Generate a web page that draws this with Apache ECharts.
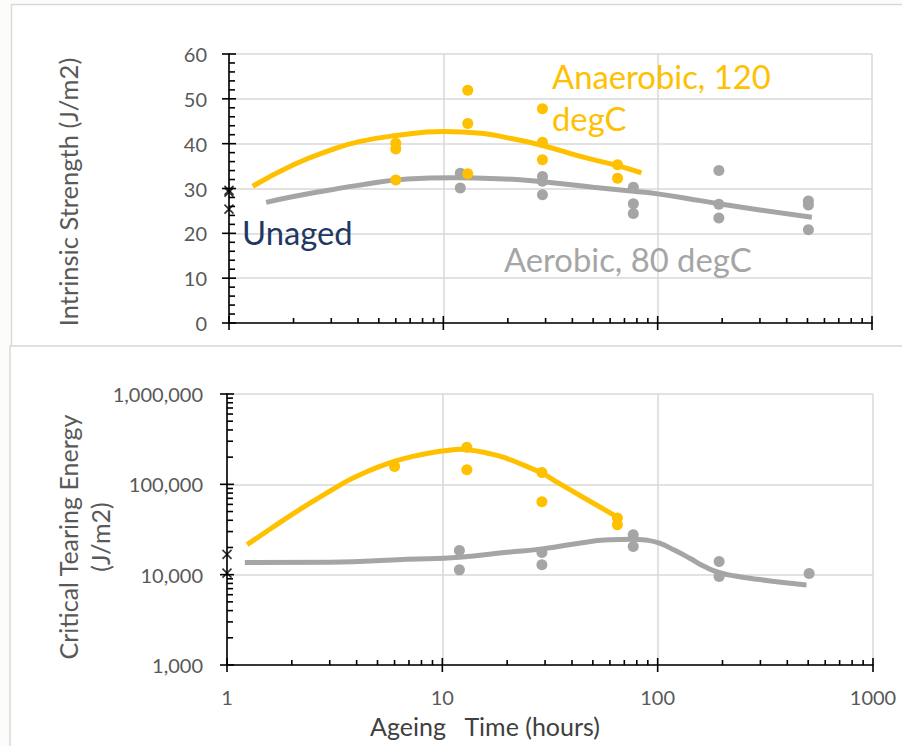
<!DOCTYPE html>
<html>
<head>
<meta charset="utf-8">
<script src="https://cdn.jsdelivr.net/npm/echarts@6/dist/echarts.min.js"></script>
<style>
  html, body { margin: 0; padding: 0; background: #fcfcfa; }
  #chart { width: 902px; height: 746px; }
</style>
</head>
<body>
<div id="chart"></div>
<script>
// ---- Intrinsic strength (J/m2) against ageing time (hours) ----
const strengthAnaerobicTime = [6, 6, 6, 13, 13, 13, 29, 29, 29, 65, 65];
const strengthAnaerobicValue = [40.1, 38.8, 31.9, 51.9, 44.5, 33.3, 47.8, 40.3, 36.4, 35.3, 32.3];
const strengthAerobicTime = [12, 12, 29, 29, 29, 77, 77, 77, 193, 193, 193, 505, 505, 505];
const strengthAerobicValue = [33.4, 30.1, 32.7, 31.6, 28.6, 30.3, 26.6, 24.4, 34.0, 26.5, 23.4, 27.2, 26.3, 20.8];
const strengthUnagedTime = [1, 1, 1];
const strengthUnagedValue = [29.6, 29.2, 25.4];
// trend curves
const strengthAnaerobicFitTime = [1.29, 2, 3, 4, 6, 10, 15, 20, 29, 45, 65, 84];
const strengthAnaerobicFitValue = [30.5, 35.3, 38.6, 40.4, 41.8, 42.7, 42.3, 41.3, 39.6, 37.0, 35.1, 33.5];
const strengthAerobicFitTime = [1.49, 2, 2.9, 4, 6.8, 11, 18, 29, 50, 77, 100, 158, 193, 300, 524];
const strengthAerobicFitValue = [26.9, 28.2, 29.6, 30.7, 32.1, 32.4, 32.2, 31.5, 30.3, 29.4, 28.8, 27.3, 26.6, 25.2, 23.6];

// ---- Critical tearing energy (J/m2) against ageing time (hours) ----
const energyAnaerobicTime = [6, 13, 13, 29, 29, 65, 65];
const energyAnaerobicValue = [158000, 258000, 145000, 135000, 64000, 42300, 35600];
const energyAerobicTime = [12, 12, 29, 29, 77, 77, 193, 193, 505];
const energyAerobicValue = [18500, 11300, 17600, 12900, 27600, 20500, 14000, 9530, 10300];
const energyUnagedTime = [1, 1];
const energyUnagedValue = [16800, 10400];
// trend curves
const energyAnaerobicFitTime = [1.24, 1.6, 2, 2.5, 3.1, 3.7, 4.4, 5.2, 6, 7.3, 8.9, 10.5, 12, 13, 17, 20, 24, 29, 35, 45, 65];
const energyAnaerobicFitValue = [21500, 32400, 46200, 64600, 88000, 112000, 136000, 160000, 180000, 204000, 224000, 237000, 244000, 242000, 216000, 193000, 162000, 133000, 102000, 72000, 43400];
const energyAerobicFitTime = [1.21, 3, 6.9, 12, 20, 29, 48, 60, 75, 90, 102, 120, 141, 165, 194, 230, 268, 383, 491];
const energyAerobicFitValue = [13600, 13700, 14800, 15600, 17700, 19300, 23200, 24300, 24700, 24000, 22300, 18600, 15200, 12300, 10500, 9660, 9140, 8170, 7700];

// ---- tick positions ----
const timeMajorTicks = [1, 10, 100, 1000];
const timeMinorTicks = [2, 3, 4, 5, 6, 7, 8, 9, 20, 30, 40, 50, 60, 70, 80, 90, 200, 300, 400, 500, 600, 700, 800, 900];
const strengthMajorTicks = [0, 10, 20, 30, 40, 50, 60];
const strengthMinorTicks = [2, 4, 6, 8, 12, 14, 16, 18, 22, 24, 26, 28, 32, 34, 36, 38, 42, 44, 46, 48, 52, 54, 56, 58];
const energyMajorTicks = [1000, 10000, 100000, 1000000];
const energyMinorTicks = [2000, 3000, 4000, 5000, 6000, 7000, 8000, 9000,
  20000, 30000, 40000, 50000, 60000, 70000, 80000, 90000,
  200000, 300000, 400000, 500000, 600000, 700000, 800000, 900000];

const ORANGE = '#FFC000';
const GREY = '#A5A5A5';
const TEXT = '#595959';
const GRID_LINE = '#d9d9d9';
const FONT = 'Lato, Carlito, "Open Sans", sans-serif';

const zip = (xs, ys) => xs.map((x, i) => [x, ys[i]]);

// tick marks drawn through the axis scales: [x, y, lengthInside, lengthOutside]
function tickSeries(grid, orient, items) {
  return {
    type: 'custom',
    xAxisIndex: grid, yAxisIndex: grid,
    coordinateSystem: 'cartesian2d',
    clip: false, silent: true, z: 10,
    encode: { x: 0, y: 1 },
    data: items,
    renderItem: function (params, api) {
      const p = api.coord([api.value(0), api.value(1)]);
      const inL = api.value(2), outL = api.value(3);
      const shape = orient === 'x'
        ? { x1: p[0], y1: p[1] - inL, x2: p[0], y2: p[1] + outL }
        : { x1: p[0] - outL, y1: p[1], x2: p[0] + inL, y2: p[1] };
      return { type: 'line', shape: shape, style: { stroke: '#000', lineWidth: 1.6 } };
    }
  };
}

const crossMark = 'path://M0,0L10,10M10,0L0,10';

function scatter(grid, data, color) {
  return {
    type: 'scatter', xAxisIndex: grid, yAxisIndex: grid, data: data,
    symbol: 'circle', symbolSize: 11, itemStyle: { color: color, opacity: 1 },
    z: 5, silent: true
  };
}
function unaged(grid, data) {
  return {
    type: 'scatter', xAxisIndex: grid, yAxisIndex: grid, data: data,
    symbol: crossMark, symbolSize: 9,
    itemStyle: { color: 'none', borderColor: '#000', borderWidth: 1.6 },
    clip: false, z: 6, silent: true
  };
}
function fit(grid, data, color) {
  return {
    type: 'line', xAxisIndex: grid, yAxisIndex: grid, data: data,
    smooth: true, showSymbol: false, symbol: 'none',
    lineStyle: { color: color, width: 5 }, z: 3, silent: true
  };
}

const axisLine = { show: true, onZero: false, lineStyle: { color: '#000', width: 1.6 } };
const splitLine = { show: true, lineStyle: { color: GRID_LINE, width: 1.5 } };

const option = {
  animation: false,
  backgroundColor: 'transparent',
  grid: [
    { left: 229, top: 54, width: 643, height: 269 },
    { left: 227, top: 394, width: 646, height: 271 }
  ],
  xAxis: [
    { type: 'log', logBase: 10, min: 1, max: 1000, gridIndex: 0,
      axisLine: axisLine, axisTick: { show: false }, axisLabel: { show: false },
      splitLine: splitLine, minorTick: { show: false } },
    { type: 'log', logBase: 10, min: 1, max: 1000, gridIndex: 1,
      axisLine: axisLine, axisTick: { show: false },
      axisLabel: { color: TEXT, fontSize: 20, fontFamily: FONT, margin: 22,
        formatter: v => String(v) },
      splitLine: splitLine }
  ],
  yAxis: [
    { type: 'value', min: 0, max: 60, interval: 10, gridIndex: 0,
      axisLine: axisLine, axisTick: { show: false },
      axisLabel: { color: TEXT, fontSize: 20, fontFamily: FONT, margin: 22 },
      splitLine: splitLine },
    { type: 'log', logBase: 10, min: 1000, max: 1000000, gridIndex: 1,
      axisLine: axisLine, axisTick: { show: false },
      axisLabel: { color: TEXT, fontSize: 20, fontFamily: FONT, margin: 24,
        formatter: v => Number(v).toLocaleString('en-US') },
      splitLine: splitLine }
  ],
  series: [
    fit(0, zip(strengthAerobicFitTime, strengthAerobicFitValue), GREY),
    fit(0, zip(strengthAnaerobicFitTime, strengthAnaerobicFitValue), ORANGE),
    scatter(0, zip(strengthAerobicTime, strengthAerobicValue), GREY),
    scatter(0, zip(strengthAnaerobicTime, strengthAnaerobicValue), ORANGE),
    unaged(0, zip(strengthUnagedTime, strengthUnagedValue)),

    fit(1, zip(energyAerobicFitTime, energyAerobicFitValue), GREY),
    fit(1, zip(energyAnaerobicFitTime, energyAnaerobicFitValue), ORANGE),
    scatter(1, zip(energyAerobicTime, energyAerobicValue), GREY),
    scatter(1, zip(energyAnaerobicTime, energyAnaerobicValue), ORANGE),
    unaged(1, zip(energyUnagedTime, energyUnagedValue)),

    tickSeries(0, 'x', timeMajorTicks.map(t => [t, 0, 7, 7]).concat(timeMinorTicks.map(t => [t, 0, 5, 0]))),
    tickSeries(0, 'y', strengthMajorTicks.map(v => [1, v, 7, 7]).concat(strengthMinorTicks.map(v => [1, v, 6, 0]))),
    tickSeries(1, 'x', timeMajorTicks.map(t => [t, 1000, 7, 7]).concat(timeMinorTicks.map(t => [t, 1000, 5, 0]))),
    tickSeries(1, 'y', energyMajorTicks.map(v => [1, v, 7, 7]).concat(energyMinorTicks.map(v => [1, v, 6, 0])))
  ],
  graphic: [
    { type: 'rect', z: -10, silent: true, shape: { x: 11.5, y: 4.5, width: 900, height: 342 },
      style: { fill: '#fff', stroke: GRID_LINE, lineWidth: 1.5 } },
    { type: 'rect', z: -10, silent: true, shape: { x: 10, y: 346, width: 900, height: 410 },
      style: { fill: '#fff', stroke: GRID_LINE, lineWidth: 1.5 } },

    { type: 'text', z: 100, silent: true, x: 68, y: 192, rotation: Math.PI / 2,
      style: { text: 'Intrinsic Strength (J/m2)', font: '25.5px ' + FONT, fill: TEXT,
        align: 'center', verticalAlign: 'middle', textAlign: 'center', textVerticalAlign: 'middle' } },
    { type: 'text', z: 100, silent: true, x: 68, y: 537, rotation: Math.PI / 2,
      style: { text: 'Critical Tearing Energy', font: '25px ' + FONT, fill: TEXT,
        align: 'center', verticalAlign: 'middle', textAlign: 'center', textVerticalAlign: 'middle' } },
    { type: 'text', z: 100, silent: true, x: 100, y: 537, rotation: Math.PI / 2,
      style: { text: '(J/m2)', font: '25px ' + FONT, fill: TEXT,
        align: 'center', verticalAlign: 'middle', textAlign: 'center', textVerticalAlign: 'middle' } },
    { type: 'text', z: 100, silent: true, x: 485, y: 726,
      style: { text: 'Ageing   Time (hours)', font: '25px ' + FONT, fill: '#404040',
        align: 'center', verticalAlign: 'middle', textAlign: 'center', textVerticalAlign: 'middle' } },

    { type: 'text', z: 100, silent: true, x: 552, y: 76,
      style: { text: 'Anaerobic, 120', font: '32.8px ' + FONT, fill: ORANGE,
        align: 'left', verticalAlign: 'middle', textAlign: 'left', textVerticalAlign: 'middle' } },
    { type: 'text', z: 100, silent: true, x: 552, y: 118,
      style: { text: 'degC', font: '32.8px ' + FONT, fill: ORANGE,
        align: 'left', verticalAlign: 'middle', textAlign: 'left', textVerticalAlign: 'middle' } },
    { type: 'text', z: 100, silent: true, x: 242, y: 232,
      style: { text: 'Unaged', font: '32.8px ' + FONT, fill: '#1F3864',
        align: 'left', verticalAlign: 'middle', textAlign: 'left', textVerticalAlign: 'middle' } },
    { type: 'text', z: 100, silent: true, x: 504, y: 259,
      style: { text: 'Aerobic, 80 degC', font: '32.8px ' + FONT, fill: GREY,
        align: 'left', verticalAlign: 'middle', textAlign: 'left', textVerticalAlign: 'middle' } }
  ]
};

const chart = echarts.init(document.getElementById('chart'), null, { renderer: 'svg' });
chart.setOption(option);
</script>
</body>
</html>
